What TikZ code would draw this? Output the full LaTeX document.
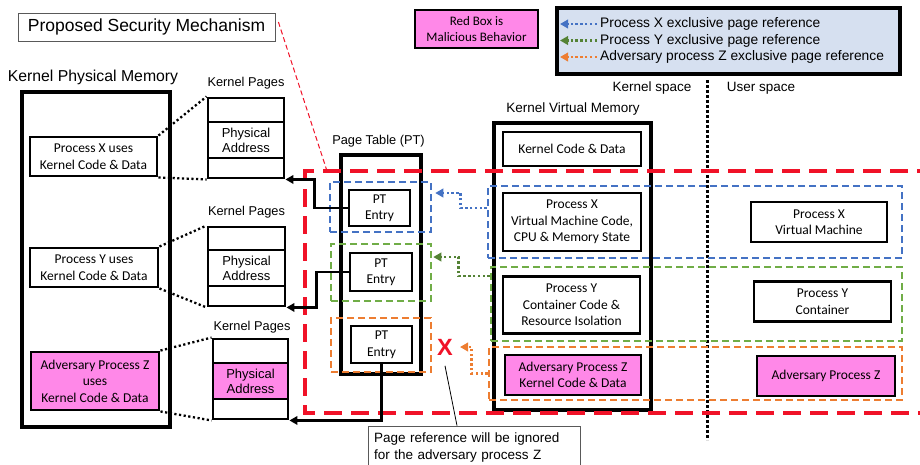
\documentclass[tikz,border=0pt]{standalone}
\usepackage{fontspec}
\setmainfont{Liberation Sans}
\newfontfamily\carl{Carlito}
\usetikzlibrary{arrows.meta}
\definecolor{magfill}{RGB}{255,136,232}
\definecolor{legfill}{RGB}{214,224,240}
\definecolor{bluec}{RGB}{68,114,196}
\definecolor{greenc}{RGB}{112,173,71}
\definecolor{greenarr}{RGB}{84,130,53}
\definecolor{orangec}{RGB}{237,125,49}
\definecolor{redc}{RGB}{240,18,40}
\begin{document}
\begin{tikzpicture}[x=1pt,y=-1pt,
  bigbox/.style={draw, line width=3.2pt, inner sep=0pt},
  cbox/.style={draw, line width=2.9pt, fill=white, inner sep=0pt, align=center, font=\carl\fontsize{13.5}{16.5}\selectfont},
  kpcell/.style={draw, line width=2.9pt, fill=white, inner sep=0pt, align=center, font=\fontsize{13}{15}\selectfont},
  lbl/.style={inner sep=0pt, font=\fontsize{13}{15}\selectfont},
  legtxt/.style={inner sep=0pt, anchor=west, font=\fontsize{13.8}{16}\selectfont},
  cdash/.style={draw, line width=2.5pt, dash pattern=on 7pt off 4pt, inner sep=0pt},
  darr/.style={line width=2.7pt, dash pattern=on 2.4pt off 2.4pt, -{Triangle[length=8pt,width=8.5pt]}},
  conn/.style={line width=2.8pt, -{Triangle[length=8pt,width=8.5pt]}},
  dotl/.style={line width=2.3pt, dash pattern=on 2.2pt off 2.5pt},
  reddash/.style={draw=redc, line width=3.2pt, dash pattern=on 18pt off 9pt},
  grayb/.style={draw=black!65, line width=0.8pt, inner sep=0pt}]
\useasboundingbox (0,0) rectangle (920,464);

% title and legend
\node[grayb, minimum width=257pt, minimum height=28pt, font=\fontsize{17.5}{20}\selectfont] (title) at (146.5,27) {Proposed Security Mechanism};
\node[cbox, fill=magfill, line width=2.2pt, minimum width=123pt, minimum height=38pt, font=\carl\fontsize{13}{16}\selectfont] (redkey) at (476.5,29) {Red Box is\\Malicious Behavior};
\node[bigbox, fill=legfill, minimum width=343pt, minimum height=66pt] (legend) at (728.5,41) {};
\node[legtxt] (lt1) at (600,24) {Process X exclusive page reference};
\node[legtxt] (lt2) at (600,40.5) {Process Y exclusive page reference};
\node[legtxt] (lt3) at (600,57) {Adversary process Z exclusive page reference};
\draw[darr, bluec] ([xshift=-3pt]lt1.west) -- ++(-37,0);
\draw[darr, greenarr] ([xshift=-3pt]lt2.west) -- ++(-37,0);
\draw[darr, orangec] ([xshift=-3pt]lt3.west) -- ++(-37,0);

\node[lbl, font=\fontsize{13.5}{15}\selectfont] (kspace) at (652,88) {Kernel space};
\node[lbl, font=\fontsize{13.5}{15}\selectfont] (uspace) at (761,88) {User space};
\coordinate (divtop) at (707,80);
\coordinate (divbot) at (707,440);
\draw[line width=3pt, dash pattern=on 2.5pt off 2.5pt] (divtop) -- (divbot);

% kernel physical memory
\node[inner sep=0pt, font=\fontsize{15.8}{18}\selectfont] (kpmlbl) at (93,77) {Kernel Physical Memory};
\node[bigbox, minimum width=148pt, minimum height=335pt] (kpm) at (96,259.5) {};
\node[cbox, minimum width=127pt, minimum height=39pt] (px) at (93.5,156.5) {Process X uses\\Kernel Code \& Data};
\node[cbox, minimum width=128pt, minimum height=39pt] (py) at (94,267.5) {Process Y uses\\Kernel Code \& Data};
\node[cbox, fill=magfill, minimum width=128pt, minimum height=58pt] (pz) at (95,381) {Adversary Process Z\\uses\\Kernel Code \& Data};

% kernel pages
\node[lbl, font=\fontsize{12.8}{15}\selectfont] (kpl1) at (246,83) {Kernel Pages};
\node[lbl, font=\fontsize{12.8}{15}\selectfont] (kpl2) at (246.5,212) {Kernel Pages};
\node[lbl, font=\fontsize{12.8}{15}\selectfont] (kpl3) at (252,327) {Kernel Pages};
\node[kpcell, minimum width=76pt, minimum height=24pt] (kp1top) at (246,110) {};
\node[kpcell, minimum width=76pt, minimum height=36pt] (kp1mid) at (246,140) {Physical\\Address};
\node[kpcell, minimum width=76pt, minimum height=20pt] (kp1bot) at (246,168) {};
\node[kpcell, minimum width=77pt, minimum height=23pt] (kp2top) at (246.5,238.5) {};
\node[kpcell, minimum width=77pt, minimum height=36pt] (kp2mid) at (246.5,268) {Physical\\Address};
\node[kpcell, minimum width=77pt, minimum height=20pt] (kp2bot) at (246.5,296) {};
\node[kpcell, minimum width=75pt, minimum height=24pt] (kp3top) at (250.5,351) {};
\node[kpcell, fill=magfill, minimum width=75pt, minimum height=36pt] (kp3mid) at (250.5,381) {Physical\\Address};
\node[kpcell, minimum width=75pt, minimum height=20pt] (kp3bot) at (250.5,409) {};

\draw[dotl] (px.north east) -- (kp1top.north west);
\draw[dotl] (px.south east) -- (kp1bot.south west);
\draw[dotl] (py.north east) -- (kp2top.north west);
\draw[dotl] (py.south east) -- (kp2bot.south west);
\draw[dotl] (pz.north east) -- (kp3top.north west);
\draw[dotl] (pz.south east) -- (kp3bot.south west);

% page table
\node[lbl, font=\fontsize{12.8}{15}\selectfont] (ptlbl) at (378.5,141) {Page Table (PT)};
\node[bigbox, minimum width=80pt, minimum height=219pt] (pt) at (381,264.5) {};

% kernel virtual memory
\node[lbl, font=\fontsize{13.5}{15}\selectfont] (kvmlbl) at (573,109) {Kernel Virtual Memory};
\node[bigbox, minimum width=157pt, minimum height=287pt] (kvm) at (572.5,266.5) {};

% red region
\coordinate (rtr) at (935,171);
\coordinate (rtl) at (305,171);
\coordinate (rbl) at (305,413);
\coordinate (rbr) at (935,413);
\coordinate (rdiag) at (327,171);
\draw[reddash] (rtr) -- (rtl) -- (rbl) -- (rbr);
\draw[redc, line width=1pt, dash pattern=on 5pt off 3pt] ([xshift=3pt,yshift=5pt]title.east) -- (rdiag);

% dashed colored boxes
\node[cdash, draw=bluec, minimum width=101pt, minimum height=50pt] (bxL) at (380.5,207) {};
\node[cdash, draw=greenc, minimum width=100pt, minimum height=57pt] (gxL) at (381,272.5) {};
\node[cdash, draw=orangec, minimum width=100pt, minimum height=54pt] (oxL) at (381,345) {};
\node[cdash, draw=bluec, minimum width=414pt, minimum height=72pt] (bxR) at (695,222) {};
\node[cdash, draw=greenc, minimum width=411pt, minimum height=74pt] (gxR) at (696.5,304) {};
\node[cdash, draw=orangec, minimum width=413pt, minimum height=53pt] (oxR) at (695.5,373.5) {};

% PT entries
\node[cbox, minimum width=61pt, minimum height=36pt] (pt1) at (379.5,208) {PT\\Entry};
\node[cbox, minimum width=62pt, minimum height=38pt] (pt2) at (381,272) {PT\\Entry};
\node[cbox, minimum width=61pt, minimum height=37pt] (pt3) at (381.5,344.5) {PT\\Entry};

% KVM contents
\node[cbox, minimum width=138pt, minimum height=34pt] (kcd) at (572,149) {Kernel Code \& Data};
\node[cbox, minimum width=138pt, minimum height=58pt] (kx) at (572,222) {Process X\\Virtual Machine Code,\\CPU \& Memory State};
\node[cbox, minimum width=137pt, minimum height=57pt] (ky) at (571.5,305) {Process Y\\Container Code \&\\Resource Isolation};
\node[cbox, fill=magfill, minimum width=136pt, minimum height=40pt] (kz) at (573,375) {Adversary Process Z\\Kernel Code \& Data};

% user space
\node[cbox, minimum width=136pt, minimum height=40pt] (ux) at (819,222) {Process X\\Virtual Machine};
\node[cbox, minimum width=137pt, minimum height=40pt] (uy) at (822.5,301.5) {Process Y\\Container};
\node[cbox, fill=magfill, minimum width=138pt, minimum height=40pt] (uz) at (826,376) {Adversary Process Z};

% black connectors
\draw[conn] (pt1.west) -- ++(-33,0) |- (kp1bot.south east);
\draw[conn] (pt2.west) -- ++(-32,0) |- (kp2bot.south east);
\draw[conn] (pt3.south) |- (kp3bot.south east);

% colored dotted arrows
\coordinate (oxtip) at (460,347);
\draw[darr, bluec, shorten >=3pt] ([yshift=14pt]bxR.west) -- ++(-26,0) |- ([yshift=14pt]bxL.east);
\draw[darr, greenarr, shorten >=1pt] ([yshift=28pt]gxR.west) -- ++(-31,0) |- ([yshift=15.5pt]gxL.east);
\draw[darr, orangec] (oxR.west) -- ++(-16,0) |- (oxtip);

% X mark and note
\node[text=redc, inner sep=0pt, font=\bfseries\fontsize{23.5}{25}\selectfont] (xmark) at (445,347.5) {X};
\node[grayb, text width=200pt, inner xsep=6pt, minimum height=42pt, align=left, font=\fontsize{13.5}{17}\selectfont] (note) at (474,447) {Page reference will be ignored\\for the adversary process Z};
\draw[line width=0.8pt] ([yshift=-10pt]xmark.south) -- ([xshift=-17pt]note.north);
\end{tikzpicture}
\end{document}
